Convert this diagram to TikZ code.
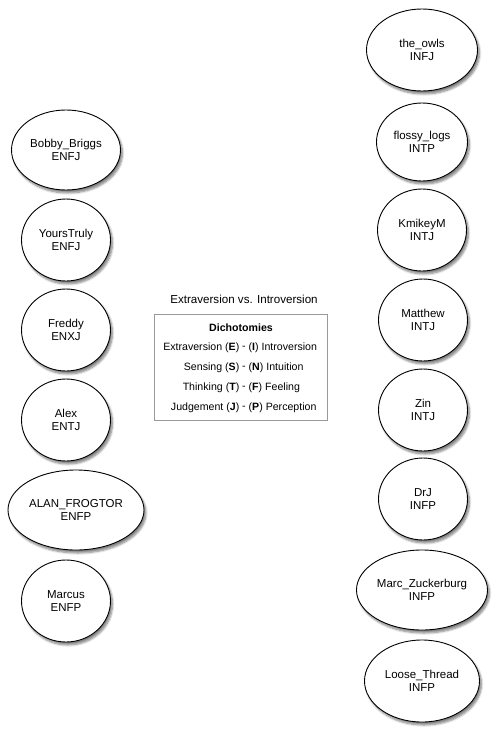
\documentclass[tikz,border=0pt]{standalone}
\usepackage{fontspec}
\setmainfont{Liberation Sans}
\usetikzlibrary{shapes.geometric,shadows.blur}
\begin{document}
\begin{tikzpicture}[x=1pt,y=-1pt,
  person/.style={ellipse, draw=black, line width=0.9pt, fill=white, align=center,
    inner sep=0pt, font=\fontsize{11.5}{13.5}\selectfont,
    blur shadow={shadow xshift=2pt, shadow yshift=-3pt, shadow blur steps=6, shadow opacity=50}},
  small/.style={minimum width=89pt, minimum height=82pt},
  legtxt/.style={inner sep=0pt, font=\fontsize{10.6}{12}\selectfont},
  legbox/.style={draw=black!40, line width=1pt, fill=white, minimum width=173pt, minimum height=106pt, inner sep=0pt}
]
\useasboundingbox (0,0) rectangle (496,731);
% left column
\node[person, minimum width=109pt, minimum height=80pt] (bobby) at (66,150) {Bobby\_Briggs\\ENFJ};
\node[person, small] (yours) at (66,240) {YoursTruly\\ENFJ};
\node[person, small] (freddy) at (66,330) {Freddy\\ENXJ};
\node[person, small] (alex) at (66,420) {Alex\\ENTJ};
\node[person, minimum width=136pt, minimum height=80pt] (alan) at (76,510) {ALAN\_FROGTOR\\ENFP};
\node[person, small] (marcus) at (66,601) {Marcus\\ENFP};
% right column
\node[person, minimum width=111pt, minimum height=82pt] (owls) at (422,50) {the\_owls\\INFJ};
\node[person, minimum width=91pt, minimum height=78pt] (flossy) at (422,142) {flossy\_logs\\INTP};
\node[person, small] (kmikey) at (422,230) {KmikeyM\\INTJ};
\node[person, small] (matthew) at (423,320) {Matthew\\INTJ};
\node[person, small] (zin) at (423,410) {Zin\\INTJ};
\node[person, small] (drj) at (423,499) {DrJ\\INFP};
\node[person, minimum width=131pt, minimum height=80pt] (marc) at (422,590) {Marc\_Zuckerburg\\INFP};
\node[person, minimum width=115pt, minimum height=82pt] (loose) at (422,681) {Loose\_Thread\\INFP};
% legend
\node[legtxt, font=\fontsize{11.6}{13}\selectfont] (title) at (244,299) {Extraversion vs. Introversion};
\node[legbox] (legend) at (240.5,367) {};
\node[legtxt, font=\fontsize{10.6}{12}\selectfont\bfseries] (dich) at (241,328) {Dichotomies};
\node[legtxt, anchor=east] (l1) at (239.5,348) {Extraversion (\textbf{E})};
\node[legtxt] (d1) at (244,348) {-};
\node[legtxt, anchor=west] (r1) at (248.5,348) {(\textbf{I}) Introversion};
\node[legtxt, anchor=east] (l2) at (239.5,368) {Sensing (\textbf{S})};
\node[legtxt] (d2) at (244,368) {-};
\node[legtxt, anchor=west] (r2) at (248.5,368) {(\textbf{N}) Intuition};
\node[legtxt, anchor=east] (l3) at (239.5,388) {Thinking (\textbf{T})};
\node[legtxt] (d3) at (244,388) {-};
\node[legtxt, anchor=west] (r3) at (248.5,388) {(\textbf{F}) Feeling};
\node[legtxt, anchor=east] (l4) at (239.5,408) {Judgement (\textbf{J})};
\node[legtxt] (d4) at (244,408) {-};
\node[legtxt, anchor=west] (r4) at (248.5,408) {(\textbf{P}) Perception};
\end{tikzpicture}
\end{document}
